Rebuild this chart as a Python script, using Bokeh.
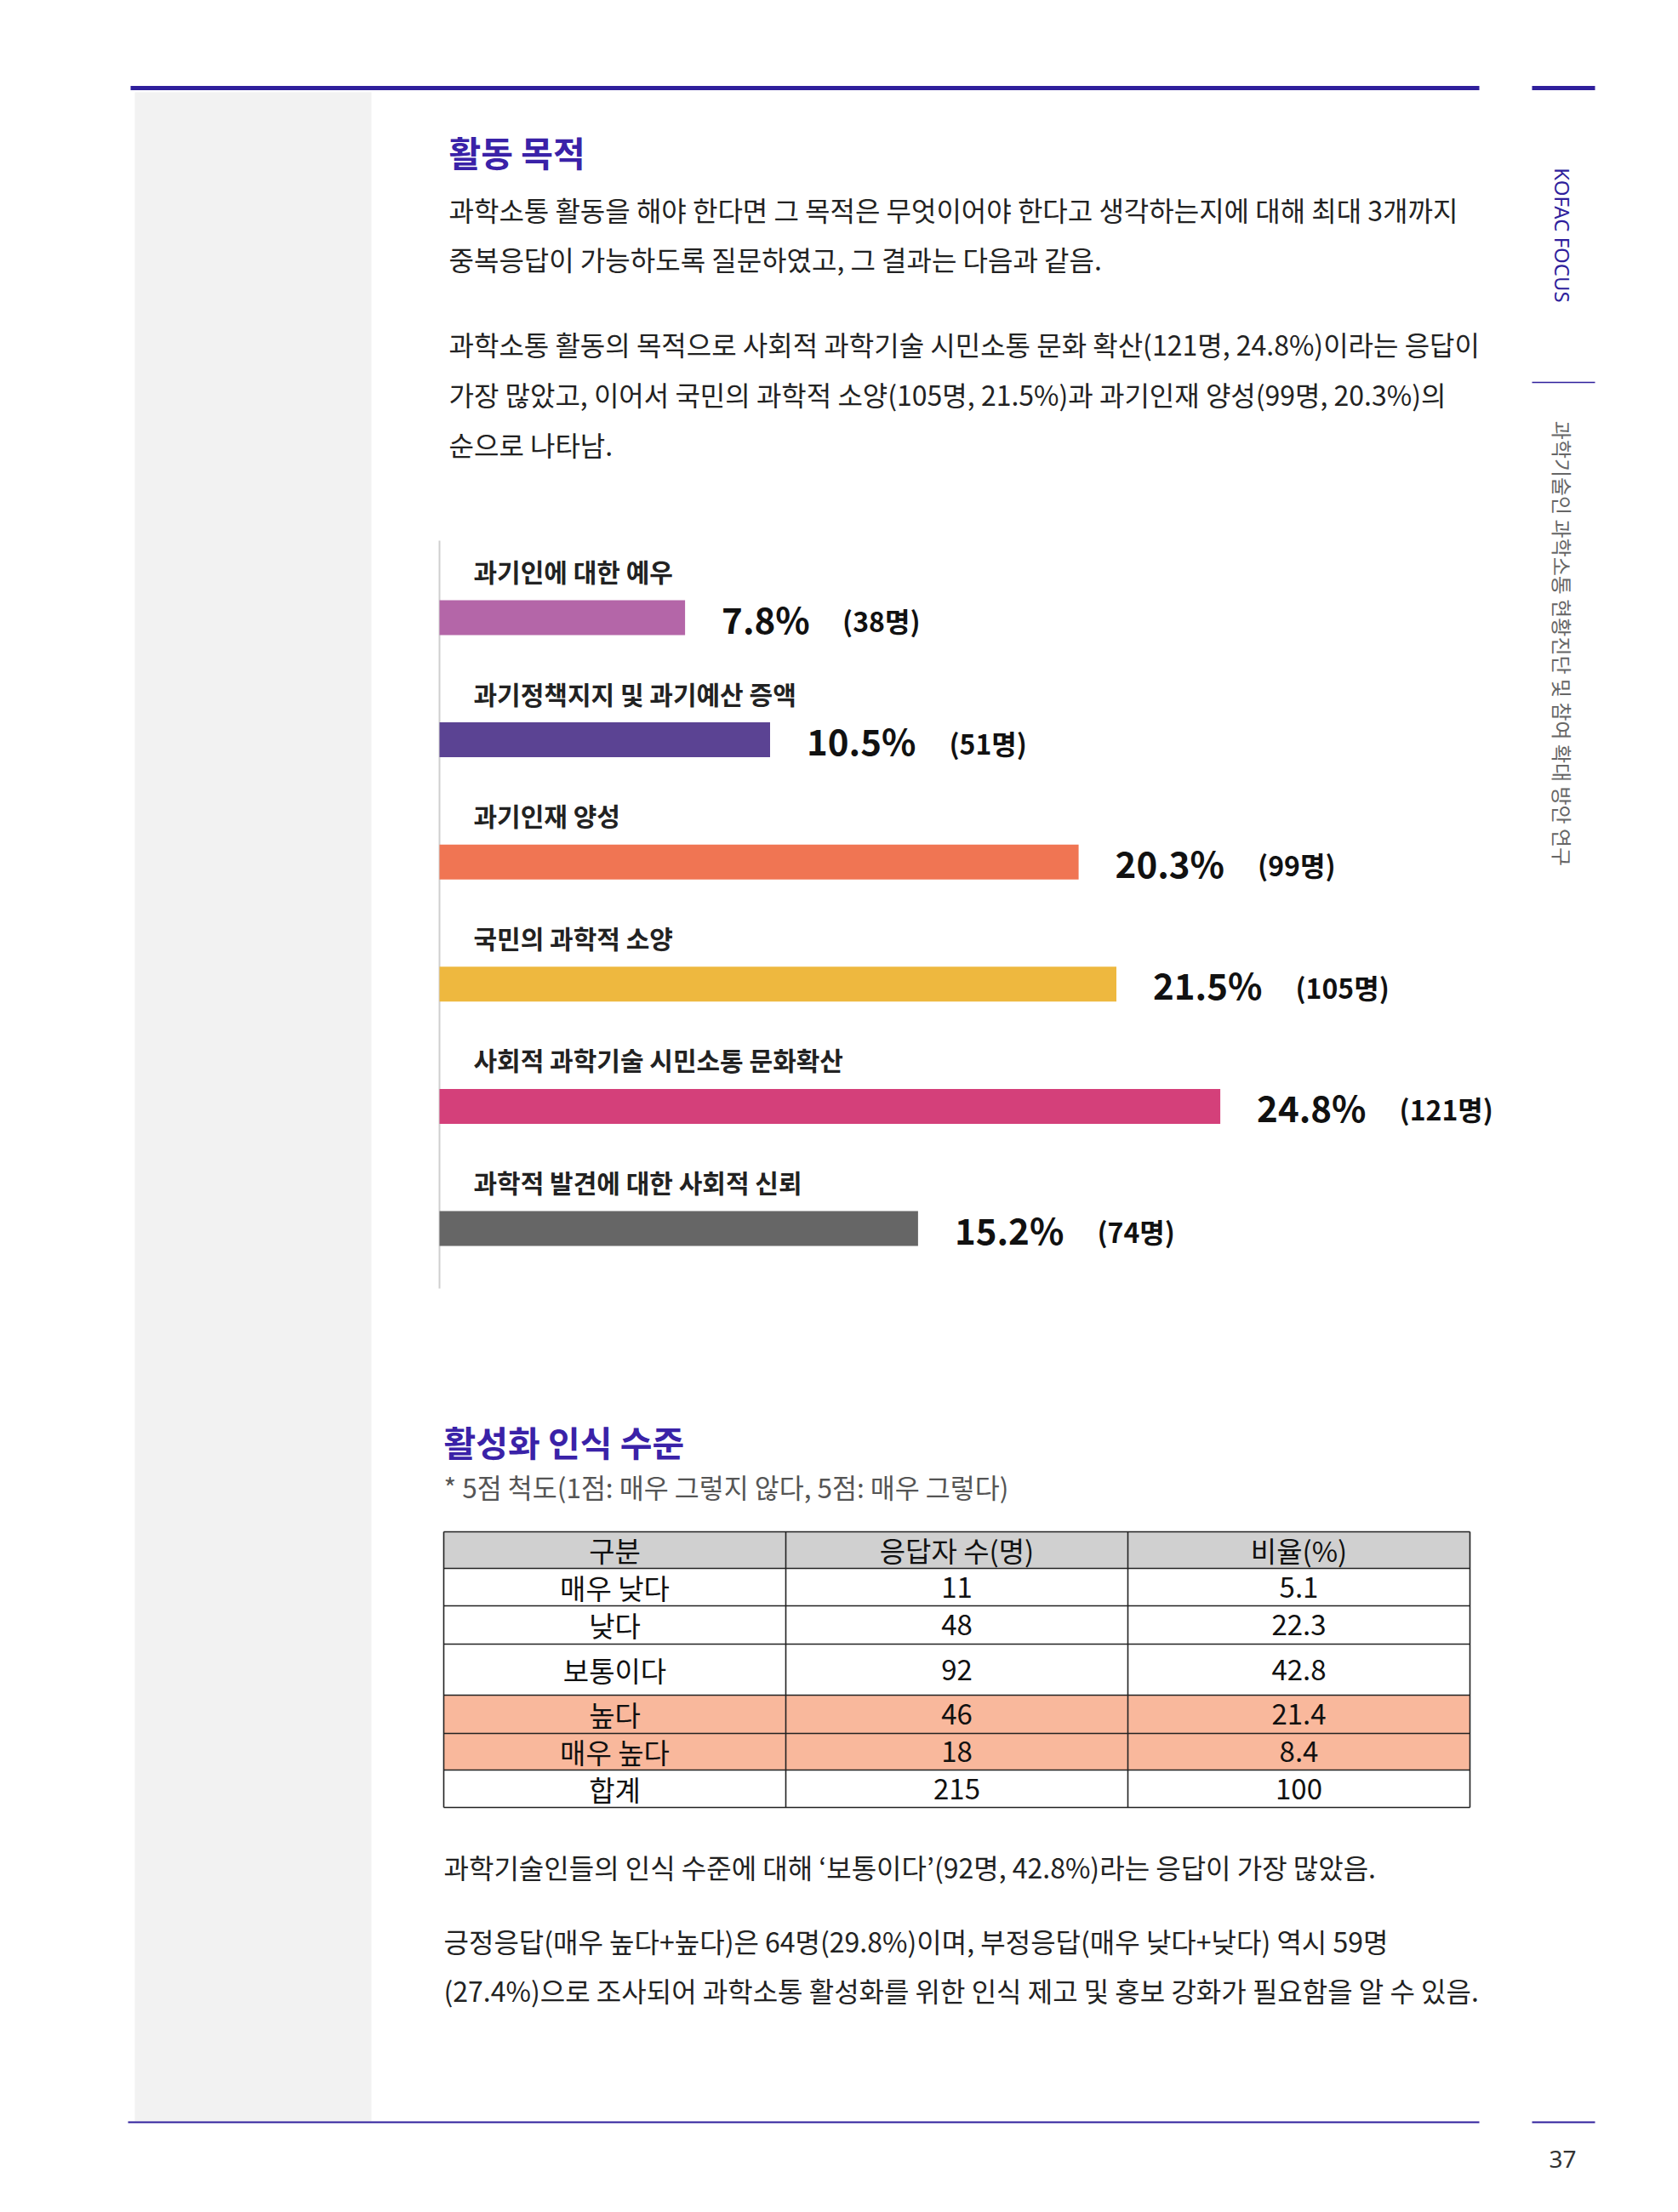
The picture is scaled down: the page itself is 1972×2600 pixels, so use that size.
import numpy as np
from bokeh.plotting import figure
from bokeh.models import Range1d, Label, ColumnDataSource
from bokeh.embed import file_html
from bokeh.resources import INLINE
from bokeh.core.properties import value

# ---------------- data ----------------
purpose_labels = ["과기인에 대한 예우", "과기정책지지 및 과기예산 증액", "과기인재 양성",
                  "국민의 과학적 소양", "사회적 과학기술 시민소통 문화확산", "과학적 발견에 대한 사회적 신뢰"]
purpose_pct = [7.8, 10.5, 20.3, 21.5, 24.8, 15.2]
purpose_n = [38, 51, 99, 105, 121, 74]
purpose_colors = ["#b466a8", "#5b4393", "#f07553", "#eeb83f", "#d4407a", "#666666"]

table_header = ["구분", "응답자 수(명)", "비율(%)"]
level_labels = ["매우 낮다", "낮다", "보통이다", "높다", "매우 높다", "합계"]
level_n = [11, 48, 92, 46, 18, 215]
level_pct = ["5.1", "22.3", "42.8", "21.4", "8.4", "100"]
level_highlight = [False, False, False, True, True, False]

heading1 = "활동 목적"
para1 = ["과학소통  활동을 해야 한다면 그 목적은 무엇이어야  한다고 생각하는지에 대해 최대 3개까지",
         "중복응답이 가능하도록 질문하였고, 그 결과는 다음과 같음."]
para2 = ["과학소통 활동의 목적으로 사회적  과학기술 시민소통 문화 확산(121명, 24.8%)이라는 응답이",
         "가장 많았고, 이어서 국민의 과학적 소양(105명, 21.5%)과 과기인재 양성(99명, 20.3%)의",
         "순으로 나타남."]
heading2 = "활성화 인식 수준"
note2 = "* 5점  척도(1점: 매우 그렇지 않다, 5점: 매우 그렇다)"
para3 = ["과학기술인들의 인식 수준에 대해 ‘보통이다’(92명, 42.8%)라는 응답이 가장 많았음."]
para4 = ["긍정응답(매우  높다+높다)은  64명(29.8%)이며,  부정응답(매우  낮다+낮다)  역시  59명",
         "(27.4%)으로 조사되어 과학소통 활성화를 위한 인식 제고 및 홍보 강화가 필요함을 알 수 있음."]
side_title = "KOFAC FOCUS"
side_sub = "과학기술인 과학소통 현황진단 및 참여 확대 방안 연구"
page_no = "37"

# ---------------- page ----------------
W, H = 1972, 2600
FONT = "Noto Sans CJK KR"
INDIGO = "#2f1f9c"
HEAD = "#3a22a8"

p = figure(width=W, height=H, x_range=Range1d(0, W), y_range=Range1d(H, 0),
           x_axis_type=None, y_axis_type=None, output_backend="svg",
           toolbar_location=None, min_border=0)
p.grid.visible = False
p.outline_line_color = None
p.background_fill_color = "white"
p.border_fill_color = "white"

# left grey column
p.quad(left=[158], right=[436], top=[108], bottom=[2493], fill_color="#f2f2f2", line_color=None)

# rules
p.segment(x0=[153, 1800], y0=[103, 103], x1=[1738, 1874], y1=[103, 103], line_color=INDIGO, line_width=5)
p.segment(x0=[1800], y0=[449], x1=[1874], y1=[449], line_color=INDIGO, line_width=1.5)
p.segment(x0=[150, 1800], y0=[2494, 2494], x1=[1738, 1874], y1=[2494, 2494], line_color=INDIGO, line_width=2)


def label(x, y, text, size, color="#222222", bold=False, align="left", angle=0, font=FONT):
    p.add_layout(Label(x=x, y=y, text=text, text_font=font, text_font_size=f"{size}px",
                       text_color=color, text_font_style="bold" if bold else "normal",
                       text_align=align, text_baseline="middle", angle=angle))


# side texts
label(1836, 276, side_title, 24, INDIGO, align="center", angle=-np.pi / 2, font="Noto Sans")
label(1836, 756, side_sub, 24, "#666666", align="center", angle=-np.pi / 2)
label(1836, 2537, page_no, 28, "#333333", align="center", font="Noto Sans")

# section 1 texts
label(527, 177, heading1, 41, HEAD, bold=True)
for i, t in enumerate(para1):
    label(527, 245 + i * 58, t, 32)
for i, t in enumerate(para2):
    label(527, 403 + i * 59, t, 32)

# ---------------- bar chart ----------------
px_per_pct = 37.0
x_zero = 516
row_c0, row_step = 725.5, 143.6
p.extra_x_ranges = {"pct": Range1d(-x_zero / px_per_pct, (W - x_zero) / px_per_pct)}
p.extra_y_ranges = {"row": Range1d((H - row_c0) / row_step, -row_c0 / row_step)}

pct_labels = [f"{v}%" for v in purpose_pct]
src = ColumnDataSource(dict(
    idx=list(range(len(purpose_pct))), pct=purpose_pct, zero=[0] * len(purpose_pct),
    color=purpose_colors, cat=purpose_labels, pct_label=pct_labels,
    n_label=[f"({n}명)" for n in purpose_n],
    n_off=[43 + 25.5 * len(s) + 40 for s in pct_labels],
))

p.segment(x0=[0], x1=[0], y0=[635], y1=[1514], line_color="#cfcfcf", line_width=2, x_range_name="pct")
p.hbar(y="idx", left="zero", right="pct", height=41 / row_step, fill_color="color", line_color=None,
       source=src, x_range_name="pct", y_range_name="row")
p.text(x="zero", y="idx", text="cat", x_offset=40, y_offset=-55, source=src,
       text_font=value(FONT), text_font_style="bold", text_font_size="30px", text_color="#222222",
       text_baseline="middle", x_range_name="pct", y_range_name="row")
p.text(x="pct", y="idx", text="pct_label", x_offset=43, source=src,
       text_font=value(FONT), text_font_style="bold", text_font_size="42px", text_color="#111111",
       text_baseline="middle", x_range_name="pct", y_range_name="row")
p.text(x="pct", y="idx", text="n_label", x_offset="n_off", y_offset=3, source=src,
       text_font=value(FONT), text_font_style="bold", text_font_size="32px", text_color="#111111",
       text_baseline="middle", x_range_name="pct", y_range_name="row")

# ---------------- section 2 ----------------
label(521, 1693, heading2, 41, HEAD, bold=True)
label(521, 1746, note2, 31.5, "#555555")

tbl_left, col_w = 521, 402
row_h = [43, 44, 45, 60, 45, 43, 44]
edges = 1800 + np.concatenate([[0], np.cumsum(row_h)])
fills = ["#d0d0d0"] + ["#f9b89c" if h else "#ffffff" for h in level_highlight]
p.quad(left=[tbl_left] * len(fills), right=[tbl_left + 3 * col_w] * len(fills),
       top=list(edges[:-1]), bottom=list(edges[1:]), fill_color=fills, line_color=None)
p.segment(x0=[tbl_left] * len(edges), x1=[tbl_left + 3 * col_w] * len(edges),
          y0=list(edges), y1=list(edges), line_color="#222222", line_width=1.6)
p.segment(x0=[tbl_left + k * col_w for k in range(4)], x1=[tbl_left + k * col_w for k in range(4)],
          y0=[edges[0]] * 4, y1=[edges[-1]] * 4, line_color="#222222", line_width=1.6)

rows = [table_header] + [[a, str(b), c] for a, b, c in zip(level_labels, level_n, level_pct)]
tx, ty, tt = [], [], []
for r, cells in enumerate(rows):
    yc = (edges[r] + edges[r + 1]) / 2
    for c, t in enumerate(cells):
        tx.append(tbl_left + col_w * (c + 0.5))
        ty.append(yc)
        tt.append(t)
p.text(x=tx, y=ty, text=tt, text_font=value(FONT), text_font_size="33px", text_color="#111111",
       text_align="center", text_baseline="middle")

for i, t in enumerate(para3):
    label(521, 2193, t, 32)
for i, t in enumerate(para4):
    label(521, 2280 + i * 58, t, 32)

open("out.html", "w").write(file_html(p, INLINE))
